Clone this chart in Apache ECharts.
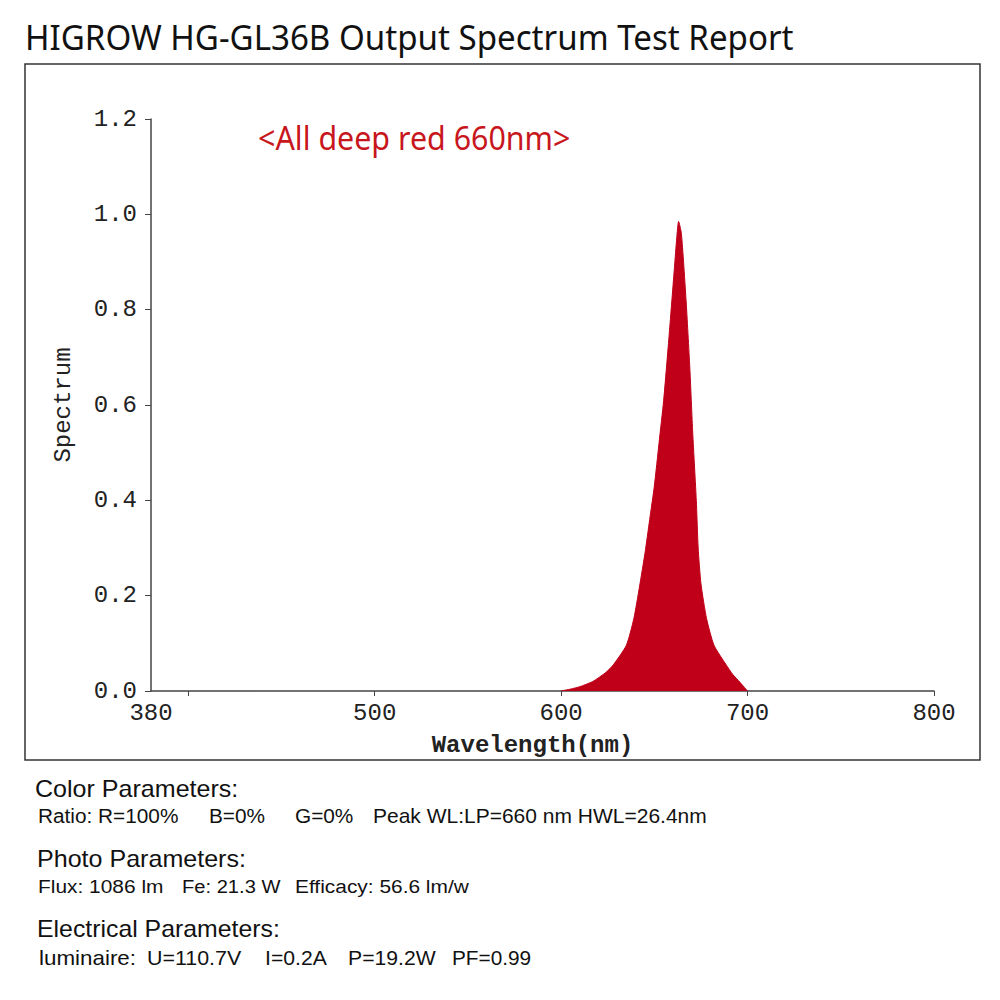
<!DOCTYPE html>
<html>
<head>
<meta charset="utf-8">
<title>HIGROW HG-GL36B Output Spectrum Test Report</title>
<script src="https://cdn.jsdelivr.net/npm/echarts@6/dist/echarts.min.js"></script>
<style>
  html, body { margin: 0; padding: 0; background: #fff; }
  #chart { width: 1000px; height: 1000px; }
</style>
</head>
<body>
<div id="chart"></div>
<script>
// spectrum (wavelength nm -> relative spectrum)
const wavelengths = [600, 605, 610, 617, 624, 628, 635, 639, 642, 645, 647.5, 650, 652.5, 655, 658, 660.8, 662, 663, 664.5, 667, 669, 670.6, 672.5, 673.5, 675, 678, 682, 688.5, 692, 696, 700];
const spectrum    = [0, 0.004, 0.009, 0.020, 0.039, 0.055, 0.096, 0.152, 0.218, 0.29, 0.36, 0.43, 0.52, 0.61, 0.75, 0.89, 0.95, 0.985, 0.96, 0.82, 0.68, 0.54, 0.40, 0.30, 0.225, 0.152, 0.096, 0.055, 0.035, 0.018, 0];

const xTickValues  = [400, 500, 600, 700, 800];
const xLabelValues = [380, 500, 600, 700, 800];
const yTicks = [0, 0.2, 0.4, 0.6, 0.8, 1.0, 1.2];

const title = 'HIGROW HG-GL36B Output Spectrum Test Report';
const note = '<All deep red 660nm>';

const sans = '"Noto Sans", "Open Sans", sans-serif';
const arial = '"Liberation Sans", Arial, sans-serif';
const mono = '"Liberation Mono", "DejaVu Sans Mono", monospace';

let chart = echarts.init(document.getElementById('chart'), null, { renderer: 'svg' });

// text placed by its left edge and vertical middle
function txt(x, y, s, size, opts) {
  opts = opts || {};
  return {
    type: 'text', x: x, y: y,
    scaleX: opts.sx || 1, originX: 0, originY: 0,
    style: {
      text: s, fill: opts.color || '#111',
      font: size + 'px ' + (opts.font || arial),
      align: 'left', verticalAlign: 'middle'
    }
  };
}

chart.setOption({
  animation: false,
  backgroundColor: '#fff',
  grid: { left: 151, right: 66, top: 119, bottom: 309 },
  xAxis: {
    type: 'value',
    min: 380, max: 800,
    name: 'Wavelength(nm)',
    nameLocation: 'middle',
    nameGap: 42,
    nameTextStyle: { fontFamily: mono, fontSize: 24, fontWeight: 'bold', color: '#222', padding: [0, 20, 0, 0] },
    axisLine: { lineStyle: { color: '#444', width: 1.5 } },
    axisTick: { show: true, length: 5, customValues: xTickValues, lineStyle: { color: '#444' } },
    axisLabel: { customValues: xLabelValues, fontFamily: mono, fontSize: 24, color: '#222', margin: 10 },
    splitLine: { show: false }
  },
  yAxis: {
    type: 'value',
    min: 0, max: 1.2, interval: 0.2,
    name: 'Spectrum',
    nameLocation: 'middle',
    nameGap: 76,
    nameTextStyle: { fontFamily: mono, fontSize: 24, color: '#222' },
    axisLine: { show: true, lineStyle: { color: '#444', width: 1.5 } },
    axisTick: { show: true, length: 6, customValues: yTicks, lineStyle: { color: '#444' } },
    axisLabel: { fontFamily: mono, fontSize: 24, color: '#222', margin: 14, formatter: v => v.toFixed(1) },
    splitLine: { show: false }
  },
  series: [{
    type: 'line',
    data: wavelengths.map((w, i) => [w, spectrum[i]]),
    smooth: 0.2,
    showSymbol: false,
    lineStyle: { color: '#c00018', width: 1 },
    areaStyle: { color: '#c00018', opacity: 1 }
  }],
  graphic: [
    { type: 'rect', shape: { x: 25, y: 64, width: 955, height: 696 },
      style: { fill: 'none', stroke: '#333', lineWidth: 1.5 } },
    txt(25, 37, title, 35, { font: sans, sx: 0.946 }),
    txt(258, 138, note, 32, { font: sans, sx: 0.95, color: '#c8161d' }),

    txt(35, 789, 'Color Parameters:', 23, { sx: 1.09 }),
    txt(38, 816, 'Ratio: R=100%', 20, { sx: 1.04 }),
    txt(209, 816, 'B=0%', 20, { sx: 1.04 }),
    txt(295, 816, 'G=0%', 20, { sx: 1.04 }),
    txt(373, 816, 'Peak WL:LP=660 nm HWL=26.4nm', 20, { sx: 1.05 }),

    txt(37, 859, 'Photo Parameters:', 23, { sx: 1.09 }),
    txt(38, 886, 'Flux: 1086 lm', 19, { sx: 1.1 }),
    txt(182, 886, 'Fe: 21.3 W', 19, { sx: 1.06 }),
    txt(295, 886, 'Efficacy: 56.6 lm/w', 19, { sx: 1.1 }),

    txt(37, 929, 'Electrical Parameters:', 23, { sx: 1.08 }),
    txt(39, 958, 'luminaire:', 20, { sx: 1.12 }),
    txt(147, 958, 'U=110.7V', 20, { sx: 1.07 }),
    txt(265, 958, 'I=0.2A', 20, { sx: 1.06 }),
    txt(348, 958, 'P=19.2W', 20, { sx: 1.06 }),
    txt(452, 958, 'PF=0.99', 20, { sx: 1.04 })
  ]
});
</script>
</body>
</html>
